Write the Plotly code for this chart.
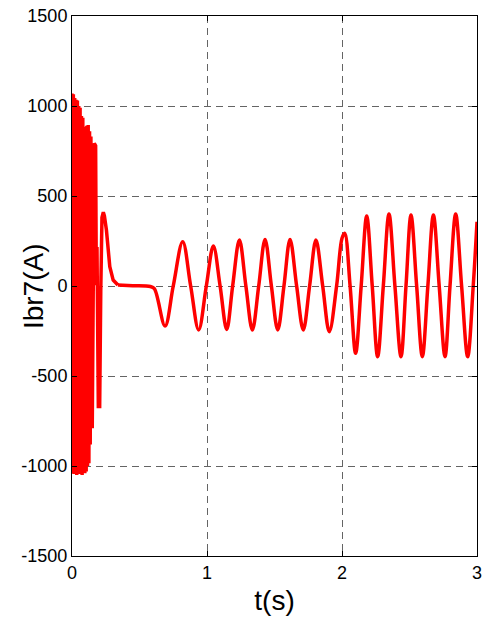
import plotly.graph_objects as go

# Early, fast transient (0 - 0.34 s): samples
t_fast = [0.000, 0.005, 0.010, 0.015, 0.020, 0.025, 0.030, 0.035, 0.040, 0.045,
          0.050, 0.055, 0.060, 0.065, 0.070, 0.075, 0.080, 0.085, 0.090, 0.095,
          0.100, 0.105, 0.110, 0.115, 0.120, 0.125, 0.130, 0.135, 0.140, 0.150,
          0.165, 0.175, 0.180, 0.185, 0.195, 0.205, 0.213, 0.222, 0.232, 0.240,
          0.255, 0.268, 0.280, 0.305, 0.340]
i_fast = [1070, -1040, 1065, -1045, 1045, -1035, 1035, -1050, 1030, -1040,
          1000, -1045, 990, -1040, 945, -1050, 935, -1035, 885, -1040,
          880, -1030, 890, -1000, 894, -985, 860, -880, 830, -790,
          793, 780, 5, 217, -670, -670, -30, 380, 410, 390,
          311, 200, 107, 33, 6]

# Slow oscillation (0.34 - 3 s): peaks, troughs and crossings
t_osc = [0.340, 0.450, 0.580, 0.610, 0.689, 0.750, 0.820, 0.879, 0.938, 0.995,
         1.047, 1.097, 1.146, 1.190, 1.240, 1.288, 1.336, 1.383, 1.430, 1.477,
         1.524, 1.570, 1.615, 1.664, 1.713, 1.760, 1.807, 1.857, 1.906, 1.960,
         2.000, 2.020, 2.060, 2.101, 2.142, 2.183, 2.224, 2.264, 2.306, 2.348,
         2.392, 2.437, 2.474, 2.511, 2.553, 2.595, 2.636, 2.677, 2.720, 2.763,
         2.800, 2.842, 2.886, 2.931, 2.972, 3.000]
i_osc = [6, 2, -3, -15, -222, 0, 246, 0, -244, 0,
         222, 0, -241, 0, 255, 0, -244, 0, 259, 0,
         -244, 0, 259, 0, -244, 0, 255, 0, -254, 0,
         265, 293, 0, -374, 0, 389, 0, -393, 0, 400,
         0, -393, 0, 394, 0, -393, 0, 394, 0, -393,
         0, 400, 0, -393, 0, 357]

x_ticks = [0, 1, 2, 3]
y_ticks = [-1500, -1000, -500, 0, 500, 1000, 1500]

RED = "rgb(255,0,0)"
FONT = "Liberation Sans, Arial, sans-serif"

fig = go.Figure()
fig.add_trace(go.Scatter(x=t_fast, y=i_fast, mode="lines",
                         line=dict(color=RED, width=3.5), showlegend=False))
fig.add_trace(go.Scatter(x=t_osc, y=i_osc, mode="lines",
                         line=dict(color=RED, width=3.5, shape="spline", smoothing=1),
                         showlegend=False))

axis_common = dict(
    showline=True, linecolor="black", linewidth=1, mirror="ticks",
    ticks="inside", ticklen=5, tickcolor="black", tickwidth=1,
    showgrid=True, gridcolor="rgb(100,100,100)", gridwidth=1,
    griddash="7px,5px", zeroline=False, automargin=False,
    ticklabeloverflow="allow",
    tickfont=dict(family=FONT, size=18, color="black"),
)

fig.update_xaxes(range=[0, 3], tickvals=x_ticks, ticktext=[str(v) for v in x_ticks],
                 title=dict(text="t(s)", font=dict(family=FONT, size=28, color="black"),
                            standoff=8),
                 **axis_common)
fig.update_yaxes(range=[-1500, 1500], tickvals=y_ticks, ticktext=[str(v) for v in y_ticks],
                 **axis_common)

# y-axis label sits over the narrow tick labels, as in the reference
fig.add_annotation(text="Ibr7(A)", textangle=-90, showarrow=False,
                   xref="paper", yref="paper", x=-0.096, y=0.5,
                   xanchor="center", yanchor="middle",
                   font=dict(family=FONT, size=28, color="black"))

fig.update_layout(
    width=488, height=623,
    margin=dict(l=72, r=11, t=16, b=67),
    plot_bgcolor="white", paper_bgcolor="white",
    font=dict(family=FONT, color="black"),
)

# remove the page's default body margin so the figure fills the window exactly
fig.write_html("out.html", config={"displayModeBar": False},
               post_script="document.body.style.margin='0';")
